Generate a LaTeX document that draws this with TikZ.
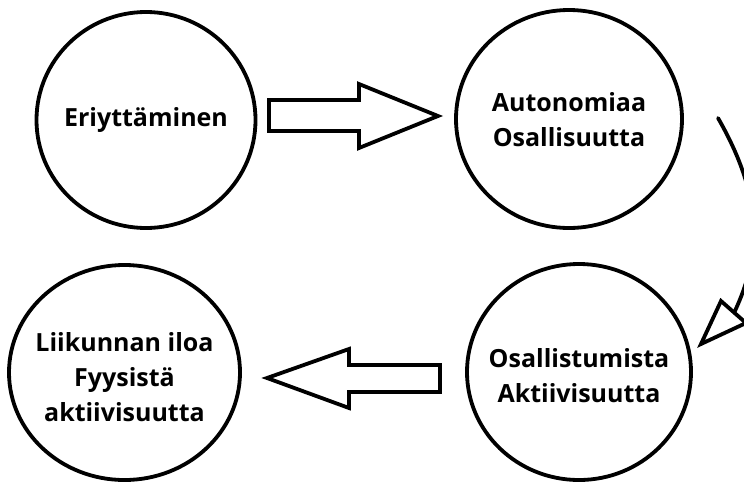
\documentclass[tikz,border=0pt]{standalone}
\usepackage{fontspec}
\setmainfont{Open Sans}
\begin{document}
\begin{tikzpicture}[x=1pt,y=-1pt,
  ring/.style={draw=black,line width=3.8pt,inner sep=0pt},
  lbl/.style={font=\bfseries\fontsize{25}{35}\selectfont,align=center,text=black},
  blockarrow/.style={draw=black,fill=white,line width=3.8pt,line join=miter,miter limit=10},
  curvearrow/.style={draw=black,line width=3.8pt,line cap=round}]
\useasboundingbox[fill=white] (0,0) rectangle (744,483);
% circles
\draw[ring] (146,120) ellipse [x radius=109.5,y radius=108];
\draw[ring] (569,119) ellipse [x radius=113,y radius=109];
\draw[ring] (124.5,372.5) ellipse [x radius=115.5,y radius=107.5];
\draw[ring] (579,372) ellipse [x radius=112,y radius=108];
% labels
\node[lbl] (c1) at (146,120) {Eriyttäminen};
\node[lbl] (c2) at (569,120) {Autonomiaa\\Osallisuutta};
\node[lbl] (c3) at (124.5,377) {Liikunnan iloa\\Fyysistä\\aktiivisuutta};
\node[lbl] (c4) at (579,376) {Osallistumista\\Aktiivisuutta};
% block arrow right
\draw[blockarrow] (269,100) -- (359,100) -- (359,84) -- (438,116) -- (359,148) -- (359,131) -- (269,131) -- cycle;
% block arrow left
\draw[blockarrow] (440,365) -- (349,365) -- (349,349) -- (267,378) -- (349,408) -- (349,392) -- (440,392) -- cycle;
% curved arrow
\coordinate (cs) at (718,118);
\coordinate (ce) at (734,313);
\begin{scope}
\clip (0,0) rectangle (744,483);
\draw[curvearrow] (cs) .. controls (768,205) and (758,262) .. (ce);
\draw[blockarrow] (721,301) -- (701,344) -- (746,323) -- cycle;
\end{scope}
\end{tikzpicture}
\end{document}
